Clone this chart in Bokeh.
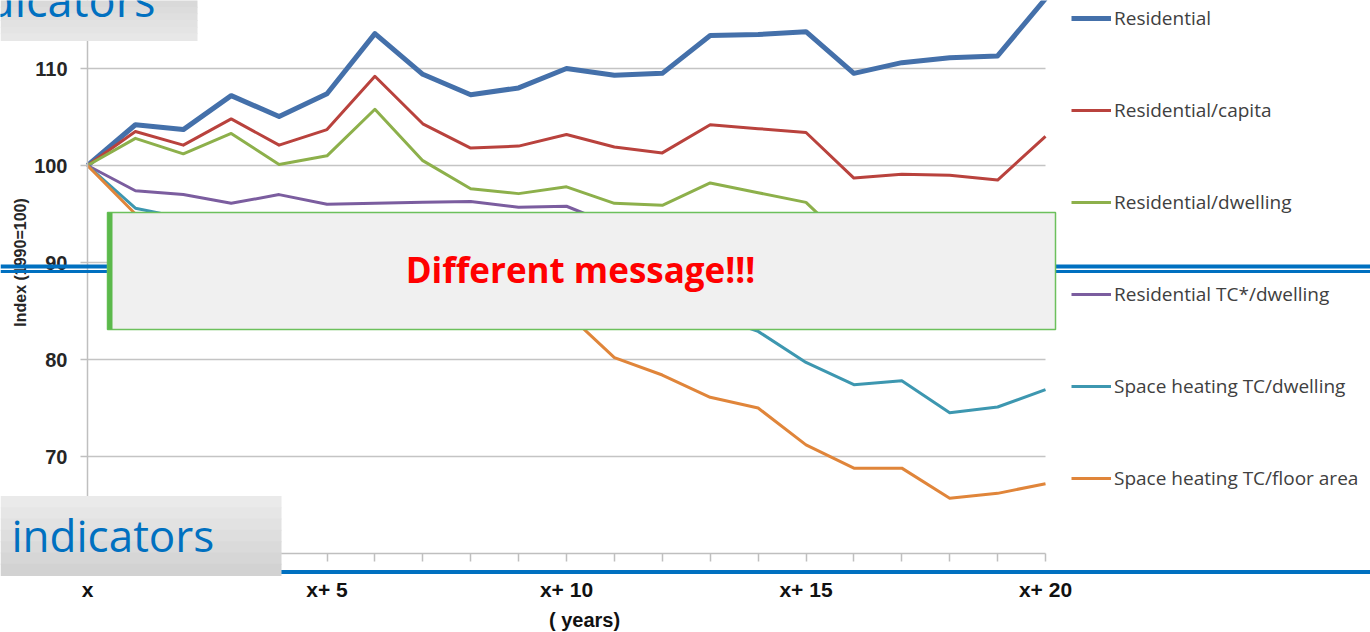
from math import pi
from bokeh.plotting import figure
from bokeh.models import (Range1d, FixedTicker, BoxAnnotation, Label, Legend,
                          LegendItem, LinearAxis)
from bokeh.embed import file_html
from bokeh.resources import INLINE

# ---------------- data ----------------
years = [0, 1, 2, 3, 4, 5, 6, 7, 8, 9, 10, 11, 12, 13, 14, 15, 16, 17, 18, 19, 20]
residential = [100.0, 104.2, 103.7, 107.2, 105.05, 107.4, 113.6, 109.4, 107.3, 108.0,
               110.0, 109.3, 109.5, 113.4, 113.5, 113.8, 109.5, 110.6, 111.1, 111.3, 117.2]
res_capita = [100.0, 103.5, 102.1, 104.8, 102.1, 103.7, 109.2, 104.3, 101.8, 102.0,
              103.2, 101.9, 101.3, 104.2, 103.8, 103.4, 98.7, 99.1, 99.0, 98.5, 103.0]
res_dwelling = [100.0, 102.8, 101.2, 103.3, 100.1, 101.0, 105.8, 100.5, 97.6, 97.1,
                97.8, 96.1, 95.9, 98.2, 97.2, 96.2, 91.5, 92.0, 91.0, 90.5, 93.0]
res_tc_dwelling = [100.0, 97.4, 97.0, 96.1, 97.0, 96.0, 96.1, 96.2, 96.3, 95.7,
                   95.8, 93.8, 93.2, 93.9, 93.1, 92.6, 90.2, 90.6, 89.6, 89.2, 91.0]
sh_tc_dwelling = [100.0, 95.6, 94.6, 94.0, 93.4, 92.1, 92.6, 91.1, 89.6, 89.0,
                  88.0, 87.1, 86.0, 84.6, 82.9, 79.7, 77.4, 77.8, 74.5, 75.1, 76.9]
sh_tc_floor = [100.0, 95.0, 94.2, 93.3, 92.5, 91.0, 91.3, 89.8, 88.0, 87.2,
               84.8, 80.2, 78.4, 76.1, 75.0, 71.2, 68.8, 68.8, 65.7, 66.2, 67.2]

series_names = ["Residential", "Residential/capita", "Residential/dwelling",
                "Residential TC*/dwelling", "Space heating TC/dwelling",
                "Space heating TC/floor area"]
series_values = [residential, res_capita, res_dwelling, res_tc_dwelling,
                 sh_tc_dwelling, sh_tc_floor]
series_colors = ["#4470AA", "#B9423D", "#8DB04B", "#7B5D9F", "#3D97B0", "#E0853A"]
series_widths = [5, 3, 3, 3, 3, 3]

x_tick_positions = [0, 5, 10, 15, 20]
x_tick_labels = ["x", "x+ 5", "x+ 10", "x+ 15", "x+ 20"]
y_ticks = [60, 70, 80, 90, 100, 110]
y_axis_bounds = (60, 120)
y_axis_title = "Index (1990=100)"
x_axis_title = "( years)"
message = "Different message!!!"
slide_title = "indicators"

# ---------------- layout (frame = whole canvas) ----------------
W, H = 1370, 632
PX0, PX1 = 87, 1045          # canvas px of first / last year
PY60 = 553                   # canvas px of index 60
XS = (PX1 - PX0) / (years[-1] - years[0])
YS = 9.7

p = figure(width=W, height=H, output_backend="svg", toolbar_location=None,
           x_range=Range1d(years[0] - PX0 / XS, years[-1] + (W - PX1) / XS),
           y_range=Range1d(60 - (H - PY60) / YS, 60 + PY60 / YS),
           x_axis_type=None, y_axis_type=None,
           min_border=0, min_border_left=0, min_border_right=0,
           min_border_top=0, min_border_bottom=0)
p.outline_line_color = None
p.background_fill_color = "white"
p.border_fill_color = "white"
p.xgrid.visible = False
p.ygrid.visible = False

# axes fixed inside the frame
xa = LinearAxis(fixed_location=60, bounds=(years[0], years[-1]))
xa.ticker = FixedTicker(ticks=years)
ov = {t: "" for t in years}
ov.update({t: l for t, l in zip(x_tick_positions, x_tick_labels)})
xa.major_label_overrides = ov
xa.major_tick_out = 8
xa.major_tick_in = 0
xa.minor_tick_out = 0
xa.minor_tick_in = 0
xa.axis_line_color = "#BFBFBF"
xa.axis_line_width = 1.5
xa.major_tick_line_color = "#BFBFBF"
xa.major_tick_line_width = 1.5
xa.major_label_standoff = 16
xa.major_label_text_font = "Liberation Sans"
xa.major_label_text_font_style = "bold"
xa.major_label_text_font_size = "21px"
xa.major_label_text_color = "#111111"
p.add_layout(xa, "below")

ya = LinearAxis(fixed_location=years[0], bounds=y_axis_bounds)
ya.ticker = FixedTicker(ticks=y_ticks)
ya.major_tick_out = 7
ya.major_tick_in = 0
ya.minor_tick_out = 0
ya.minor_tick_in = 0
ya.axis_line_color = "#BFBFBF"
ya.axis_line_width = 1.5
ya.major_tick_line_color = "#BFBFBF"
ya.major_tick_line_width = 1.5
ya.major_label_standoff = 13
ya.major_label_text_font = "Liberation Sans"
ya.major_label_text_font_style = "bold"
ya.major_label_text_font_size = "20px"
ya.major_label_text_color = "#262626"
p.add_layout(ya, "left")

# horizontal gridlines over the plotted span
grid_y = y_ticks[1:]
p.segment(x0=[years[0]] * len(grid_y), x1=[years[-1]] * len(grid_y), y0=grid_y, y1=grid_y,
          line_color="#C4C4C4", line_width=1.5)

# lines
renderers = []
for vals, col, lw in zip(series_values, series_colors, series_widths):
    r = p.line(years, vals, line_color=col, line_width=lw, line_join="round")
    renderers.append(r)


def sx(px):
    return px


def sy(py):
    return H - py


BASE_FIX = 0.43  # empirical shift for alphabetic baseline


def label(px, py, text, size, **kw):
    kw.setdefault("text_baseline", "alphabetic")
    yy = sy(py)
    if kw["text_baseline"] == "alphabetic":
        yy += BASE_FIX * size
    p.add_layout(Label(x=sx(px), y=yy, text=text, x_units="screen", y_units="screen",
                       text_font_size=f"{size}px", **kw))


def box(x0, x1, y0, y1, color, line_color=None, line_width=1):
    b = BoxAnnotation(left=sx(x0), right=sx(x1), top=sy(y0), bottom=sy(y1),
                      left_units="screen", right_units="screen",
                      top_units="screen", bottom_units="screen",
                      fill_color=color, fill_alpha=1.0,
                      line_color=line_color if line_color else "white",
                      line_alpha=1.0 if line_color else 0.0,
                      line_width=line_width)
    p.add_layout(b)


def bands(x0, x1, y0, y1, colors):
    n = len(colors)
    h = (y1 - y0) / n
    for i, c in enumerate(colors):
        box(x0, x1, y0 + i * h - 0.5, y0 + (i + 1) * h + 0.5, c)


# axis titles
p.add_layout(Label(x=sx(20), y=sy(262), text=y_axis_title, angle=pi / 2,
                   x_units="screen", y_units="screen", text_align="center",
                   text_baseline="middle", text_font="Liberation Sans",
                   text_font_style="bold", text_font_size="16px", text_color="#262626"))
p.add_layout(Label(x=sx(584), y=sy(619), text=x_axis_title,
                   x_units="screen", y_units="screen", text_align="center",
                   text_baseline="middle", text_font="Liberation Sans",
                   text_font_style="bold", text_font_size="20px", text_color="#111111"))

# slide decorations: blue rules
box(0, W, 264, 268, "#0070C0")
box(0, W, 269.5, 272.5, "#0070C0")
box(280, W, 569.5, 573.5, "#0070C0")

# title boxes
bands(0, 197, 0, 40, ["#D9D9D9", "#DCDCDC", "#DFDFDF", "#E2E2E2", "#E4E4E4", "#E7E7E7"])
label(155, 18, slide_title, 45, text_align="right", text_font="Open Sans",
      text_color="#0070C0")
bands(0, 281, 496, 575, ["#EAEAEA", "#E6E6E6", "#E2E2E2", "#DEDEDE", "#DADADA",
                         "#D6D6D6", "#D2D2D2"])
label(11, 553, slide_title, 44, text_align="left", text_font="Open Sans",
      text_color="#0070C0")

# message box
box(107, 1055, 212, 329, "#F0F0F0", line_color="#6CC05C", line_width=1.5)
box(107, 112, 212, 329, "#5BB94B")
label(580, 284, message, 35, text_align="center", text_font="Open Sans",
      text_font_style="bold", text_color="#FF0000")

# legend (right of the plot)
legend = Legend(items=[LegendItem(label=n, renderers=[r]) for n, r in zip(series_names, renderers)],
                location=(1071, H - 491), orientation="vertical",
                glyph_width=40, glyph_height=26, label_height=26, spacing=66,
                label_standoff=3, padding=0, margin=0,
                border_line_alpha=0, background_fill_alpha=0,
                label_text_font="Open Sans", label_text_font_size="19px",
                label_text_color="#404040")
p.add_layout(legend)

open("out.html", "w").write(file_html(p, INLINE))
